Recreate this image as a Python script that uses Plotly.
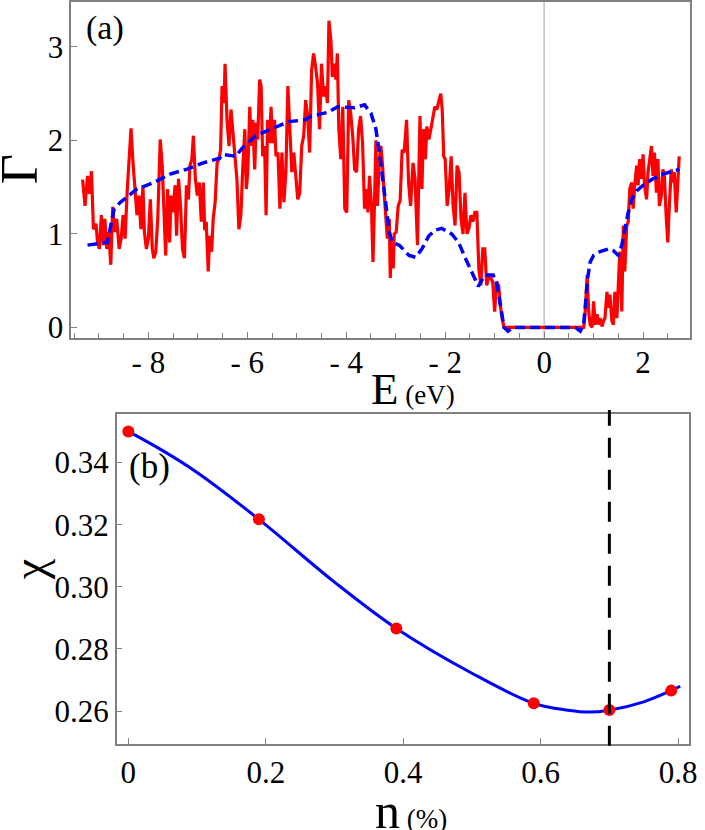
import plotly.graph_objects as go

# ---------------- data: panel (a) ----------------
E_red = [-9.33, -9.28, -9.23, -9.19, -9.15, -9.11, -9.06, -9.03, -8.99, -8.95, -8.91, -8.88, -8.84, -8.80,
         -8.76, -8.72, -8.68, -8.64, -8.59, -8.55, -8.51, -8.47, -8.43, -8.39, -8.35, -8.31, -8.27, -8.23,
         -8.19, -8.15, -8.11, -8.08, -8.04, -8.00, -7.96, -7.92, -7.89, -7.85, -7.81, -7.76, -7.72, -7.68,
         -7.65, -7.61, -7.57, -7.54, -7.50, -7.46, -7.43, -7.39, -7.35, -7.31, -7.27, -7.23, -7.19, -7.16,
         -7.12, -7.09, -7.05, -7.01, -6.97, -6.93, -6.89, -6.86, -6.83, -6.79, -6.76, -6.72, -6.69, -6.65,
         -6.61, -6.57, -6.54, -6.51, -6.47, -6.45, -6.41, -6.37, -6.33, -6.29, -6.25, -6.21, -6.17, -6.13,
         -6.09, -6.05, -6.02, -5.99, -5.95, -5.92, -5.89, -5.85, -5.82, -5.79, -5.75, -5.72, -5.69, -5.65,
         -5.62, -5.59, -5.55, -5.52, -5.49, -5.45, -5.42, -5.38, -5.34, -5.30, -5.26, -5.22, -5.18, -5.14,
         -5.10, -5.06, -5.02, -4.98, -4.94, -4.90, -4.86, -4.82, -4.78, -4.74, -4.70, -4.66, -4.62, -4.58,
         -4.54, -4.50, -4.46, -4.42, -4.38, -4.35, -4.31, -4.28, -4.25, -4.21, -4.18, -4.15, -4.11, -4.07,
         -4.03, -3.99, -3.95, -3.91, -3.87, -3.83, -3.79, -3.75, -3.71, -3.67, -3.63, -3.59, -3.56, -3.53,
         -3.49, -3.46, -3.43, -3.40, -3.37, -3.33, -3.30, -3.27, -3.23, -3.20, -3.17, -3.13, -3.11, -3.08,
         -3.05, -3.03, -2.99, -2.95, -2.91, -2.87, -2.83, -2.78, -2.74, -2.70, -2.65, -2.61, -2.56, -2.51,
         -2.47, -2.44, -2.40, -2.37, -2.33, -2.29, -2.25, -2.21, -2.17, -2.13, -2.09, -2.06, -2.03, -2.00,
         -1.96, -1.92, -1.88, -1.84, -1.80, -1.76, -1.72, -1.68, -1.64, -1.60, -1.56, -1.52, -1.48, -1.44,
         -1.40, -1.36, -1.32, -1.28, -1.24, -1.20, -1.16, -1.12, -1.08, -1.04, -1.00, -0.96, -0.92, -0.88,
         -0.84, -0.81, 0.80, 0.83, 0.87, 0.90, 0.93, 0.97, 1.00, 1.03, 1.07, 1.10, 1.13, 1.17, 1.20, 1.23,
         1.27, 1.30, 1.33, 1.37, 1.40, 1.43, 1.47, 1.50, 1.53, 1.57, 1.60, 1.63, 1.67, 1.70, 1.73, 1.77,
         1.80, 1.83, 1.87, 1.90, 1.93, 1.97, 2.00, 2.03, 2.07, 2.10, 2.13, 2.17, 2.20, 2.23, 2.27, 2.30,
         2.33, 2.37, 2.40, 2.43, 2.47, 2.50, 2.53, 2.57, 2.60, 2.63, 2.67, 2.70, 2.73]
G_red = [1.58, 1.30, 1.62, 1.43, 1.67, 1.05, 1.11, 0.93, 0.84, 1.20, 0.88, 1.16, 0.84, 1.02,
         0.67, 1.29, 1.02, 1.16, 0.84, 0.95, 1.20, 0.95, 1.44, 1.80, 2.13, 1.76, 1.41, 1.20,
         1.41, 1.05, 1.52, 1.02, 0.84, 0.95, 1.37, 0.84, 0.74, 0.81, 1.16, 2.01, 1.73, 1.09,
         0.77, 1.48, 0.91, 1.41, 1.23, 1.52, 0.98, 1.59, 1.30, 0.84, 0.74, 1.52, 1.37, 1.73,
         1.80, 2.05, 1.59, 1.41, 1.55, 1.13, 1.55, 1.04, 1.13, 0.60, 0.98, 0.81, 1.16, 1.34,
         1.76, 1.80, 1.90, 2.58, 2.40, 2.82, 2.22, 1.94, 2.33, 2.08, 1.87, 1.59, 1.05, 1.20,
         1.73, 2.12, 1.48, 1.66, 2.36, 1.94, 2.22, 1.69, 2.19, 2.01, 2.65, 2.58, 1.83, 1.94,
         1.20, 2.22, 1.97, 2.36, 1.97, 2.22, 1.83, 1.87, 1.27, 1.87, 1.34, 1.66, 2.58, 2.12,
         1.66, 1.87, 1.62, 1.37, 1.44, 1.94, 2.05, 2.43, 2.26, 1.87, 2.75, 2.93, 2.79, 2.61,
         2.12, 2.82, 2.47, 2.58, 2.40, 3.28, 3.07, 2.68, 2.82, 2.65, 2.93, 2.12, 1.80, 2.36,
         1.27, 1.23, 2.43, 2.29, 2.05, 1.69, 1.66, 2.12, 2.26, 1.97, 1.27, 1.48, 1.23, 1.62,
         1.30, 0.70, 1.30, 2.00, 1.30, 1.80, 1.94, 1.76, 1.41, 1.20, 0.95, 1.16, 0.53, 0.95,
         0.63, 1.00, 1.02, 1.30, 1.36, 1.90, 1.87, 2.22, 1.55, 1.30, 1.76, 1.59, 0.88, 2.26,
         1.48, 2.12, 1.80, 2.15, 2.01, 2.12, 2.22, 2.36, 2.33, 2.43, 2.50, 2.33, 1.83, 1.80,
         1.30, 1.48, 1.83, 1.30, 1.09, 1.73, 1.66, 1.16, 1.00, 1.44, 1.00, 1.06, 1.20, 1.13,
         1.23, 1.23, 0.63, 0.45, 0.84, 0.84, 0.45, 0.56, 0.53, 0.49, 0.17, 0.49, 0.45, 0.21,
         0.07, 0.00, 0.00, 0.17, 0.56, 0.17, 0.03, 0.00, 0.28, 0.03, 0.14, 0.03, 0.10, 0.01, 0.07, 0.10,
         0.38, 0.21, 0.35, 0.07, 0.03, 0.38, 0.10, 0.45, 0.81, 0.17, 1.09, 0.60, 1.09, 1.13, 1.48, 1.55,
         1.27, 1.52, 1.73, 1.52, 1.80, 1.59, 1.85, 1.52, 1.37, 1.66, 1.76, 1.94, 1.62, 1.87, 1.44, 1.80,
         1.30, 1.41, 1.69, 1.62, 1.16, 0.91, 1.30, 1.69, 1.55, 1.66, 1.23, 1.62, 1.83]

E_blue = [-9.23, -8.83, -8.76, -8.69, -8.56, -8.23, -7.89, -7.56, -7.23, -6.89, -6.56, -6.50, -6.23,
          -6.10, -5.83, -5.50, -5.17, -4.83, -4.70, -4.37, -4.17, -3.83, -3.63, -3.50, -3.40, -3.33,
          -3.27, -3.20, -3.13, -3.07, -2.93, -2.73, -2.60, -2.47, -2.33, -2.20, -2.07, -1.87, -1.73,
          -1.60, -1.47, -1.33, -1.20, -1.03, -0.95, -0.88, -0.81, -0.73, -0.63, 0.63, 0.73, 0.80,
          0.83, 0.88, 0.93, 1.00, 1.13, 1.30, 1.40, 1.50, 1.57, 1.63, 1.70, 1.77, 1.87, 2.00, 2.20,
          2.40, 2.60, 2.73]
G_blue = [0.88, 0.91, 1.09, 1.27, 1.34, 1.48, 1.55, 1.64, 1.69, 1.76, 1.81, 1.85, 1.83,
          1.92, 2.05, 2.13, 2.20, 2.22, 2.26, 2.30, 2.36, 2.35, 2.38, 2.29, 2.12, 1.87,
          1.62, 1.30, 1.02, 0.91, 0.88, 0.77, 0.75, 0.84, 0.98, 1.04, 1.06, 1.00, 0.91,
          0.75, 0.60, 0.44, 0.56, 0.56, 0.45, 0.24, 0.00, -0.04, 0.00, 0.00, -0.04, 0.03,
          0.24, 0.53, 0.70, 0.77, 0.81, 0.84, 0.82, 0.77, 0.88, 1.06, 1.23, 1.37, 1.46, 1.52, 1.59,
          1.64, 1.67, 1.69]

E_ticks = [-8, -6, -4, -2, 0, 2]
E_ticktext = ["- 8", "- 6", "- 4", "- 2", "0", "2"]
G_ticks = [0, 1, 2, 3]

# ---------------- data: panel (b) ----------------
n_pts = [0.0, 0.19, 0.39, 0.59, 0.70, 0.79]
chi_pts = [0.350, 0.3217, 0.2866, 0.2625, 0.2604, 0.2666]
n_curve = [0.0, 0.05, 0.10, 0.19, 0.30, 0.39, 0.50, 0.59, 0.64, 0.67, 0.70, 0.75, 0.79, 0.803]
chi_curve = [0.350, 0.3438, 0.3368, 0.3217, 0.3015, 0.2866, 0.2722, 0.2625, 0.2603, 0.2597,
             0.2603, 0.2630, 0.2666, 0.2680]
n_critical = 0.70
n_ticks = [0, 0.2, 0.4, 0.6, 0.8]
n_ticktext = ["0", "0.2", "0.4", "0.6", "0.8"]
chi_ticks = [0.26, 0.28, 0.30, 0.32, 0.34]
chi_ticktext = ["0.26", "0.28", "0.30", "0.32", "0.34"]

# ---------------- figure ----------------
W, H = 705, 830
FONT = "Liberation Serif"
FRAME = "#808080"

fig = go.Figure()
fig.add_trace(go.Scatter(x=E_red, y=G_red, mode="lines", line=dict(color="#ff0000", width=3.2),
                         xaxis="x", yaxis="y", showlegend=False))
fig.add_trace(go.Scatter(x=E_blue, y=G_blue, mode="lines",
                         line=dict(color="#0000ff", width=3.5, dash="10px,5px"),
                         xaxis="x", yaxis="y", showlegend=False))
fig.add_trace(go.Scatter(x=n_curve, y=chi_curve, mode="lines", line=dict(color="#0000ff", width=3, shape="spline"),
                         xaxis="x2", yaxis="y2", showlegend=False))
fig.add_trace(go.Scatter(x=n_pts, y=chi_pts, mode="markers", marker=dict(color="#ff0000", size=12),
                         xaxis="x2", yaxis="y2", showlegend=False))

axis_common = dict(showline=True, linecolor=FRAME, linewidth=1.5, mirror=True, showgrid=False,
                   zeroline=False, ticks="inside", tickcolor=FRAME, tickwidth=1.2, ticklen=6,
                   ticklabeloverflow="allow",
                   tickfont=dict(family=FONT, size=31, color="black"))

fig.update_layout(
    width=W, height=H, margin=dict(l=0, r=0, t=0, b=0),
    paper_bgcolor="white", plot_bgcolor="white",
    xaxis=dict(domain=[72 / W, 698 / W], range=[-9.56, 2.95], anchor="y",
               tickmode="array", tickvals=E_ticks, ticktext=E_ticktext, ticklabelstandoff=-4,
               minor=dict(ticks="inside", dtick=0.5, ticklen=5, tickcolor=FRAME, tickwidth=1.2),
               **axis_common),
    yaxis=dict(domain=[1 - 340 / H, 1 - 1 / H], range=[-0.11, 3.48], anchor="x",
               tickmode="array", tickvals=G_ticks, **axis_common),
    xaxis2=dict(domain=[118 / W, 697 / W], range=[-0.017, 0.816], anchor="y2",
                tickmode="array", tickvals=n_ticks, ticktext=n_ticktext, **axis_common),
    yaxis2=dict(domain=[1 - 750 / H, 1 - 417 / H], range=[0.2495, 0.3556], anchor="x2",
                tickmode="array", tickvals=chi_ticks, ticktext=chi_ticktext, **axis_common),
)

# vertical grey line at E = 0 (below the data)
fig.add_shape(type="line", xref="x", yref="paper", x0=0, x1=0, y0=1 - 340 / H, y1=1 - 1 / H,
              line=dict(color="#c0c0c0", width=1.5), layer="below")
# dashed black line at critical concentration
fig.add_shape(type="line", xref="x2", yref="paper", x0=n_critical, x1=n_critical,
              y0=1 - 752 / H, y1=1 - 413 / H, line=dict(color="black", width=3, dash="20px,12px"),
              layer="above")

def ann(text, x, y, size, angle=0):
    fig.add_annotation(text=text, x=x / W, y=1 - y / H, xref="paper", yref="paper",
                       showarrow=False, textangle=angle, xanchor="center", yanchor="middle",
                       font=dict(family=FONT, size=size, color="black"))

ann("(a)", 106, 27, 34)
ann("(b)", 151, 470, 35)
ann("Γ", 20, 170, 52, -90)
ann("χ", 30, 574, 46, -90)
ann("E<span style='font-size:27px'> (eV)</span>", 418, 392, 45)
ann("n<span style='font-size:27px'> (%)</span>", 416, 818, 50)

fig.write_html("out.html", config={"displayModeBar": False},
               post_script="document.body.style.margin='0px';document.body.style.overflow='hidden';")
